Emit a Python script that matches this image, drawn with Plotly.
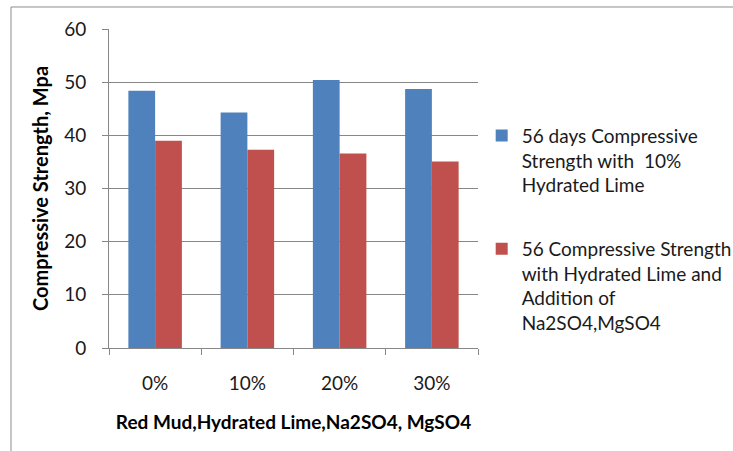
import plotly.graph_objects as go

# Replacement level of red mud
categories = ["0%", "10%", "20%", "30%"]

# 56-day compressive strength (MPa)
strength_lime = [48.4, 44.3, 50.4, 48.7]
strength_lime_sulphate = [39.0, 37.3, 36.6, 35.1]

series_names = [
    "56 days Compressive<br>Strength with  10%<br>Hydrated Lime",
    "56 Compressive Strength<br>with Hydrated Lime and<br>Addition of<br>Na2SO4,MgSO4",
]

y_ticks = [0, 10, 20, 30, 40, 50, 60]

FONT = "Lato"
GRID = "#878787"
TEXT = "#1a1a1a"

fig = go.Figure()
fig.add_trace(go.Bar(
    x=categories, y=strength_lime, name=series_names[0],
    marker=dict(color="#4F81BD", line=dict(width=0)),
    legendgroup="a",
))
fig.add_trace(go.Bar(
    x=categories, y=strength_lime_sulphate, name=series_names[1],
    marker=dict(color="#C0504D", line=dict(width=0)),
    legendgroup="b",
))

# Outer chart frame
fig.add_shape(type="rect", xref="paper", yref="paper",
              x0=-0.2656, x1=3, y0=-2, y1=1.069,
              line=dict(color="#8c8c8c", width=1), fillcolor="rgba(0,0,0,0)",
              layer="below")

fig.update_layout(
    width=733, height=451,
    margin=dict(l=109, r=255, t=29, b=103, autoexpand=False),
    paper_bgcolor="white", plot_bgcolor="white",
    barmode="group", bargap=0.42, bargroupgap=0,
    font=dict(family=FONT, size=19, color=TEXT),
    showlegend=True,
    legend=dict(
        x=1.01, xanchor="left", y=0.725, yanchor="top",
        valign="top",
        traceorder="grouped", tracegroupgap=36,
        font=dict(family=FONT, size=19, color=TEXT),
        bgcolor="rgba(0,0,0,0)",
    ),
    xaxis=dict(
        type="category",
        showline=True, linecolor=GRID, linewidth=1,
        ticks="outside", tickson="boundaries", ticklen=6, tickcolor=GRID,
        ticklabelstandoff=18,
        tickfont=dict(family=FONT, size=19, color=TEXT),
        title=dict(text="<b>Red Mud,Hydrated Lime,Na2SO4, MgSO4</b>",
                   font=dict(family=FONT, size=19, color="black"), standoff=22),
        showgrid=False, zeroline=False,
    ),
    yaxis=dict(
        range=[0, 60], tickvals=y_ticks,
        showline=True, linecolor=GRID, linewidth=1,
        ticks="outside", ticklen=6, tickcolor=GRID,
        ticklabelstandoff=12,
        tickfont=dict(family=FONT, size=19, color=TEXT),
        showgrid=True, gridcolor=GRID, gridwidth=1,
        zeroline=False,
        title=dict(text="<b>Compressive Strength, Mpa</b>",
                   font=dict(family=FONT, size=20, color="black"), standoff=10),
    ),
)

fig.write_html("out.html")
